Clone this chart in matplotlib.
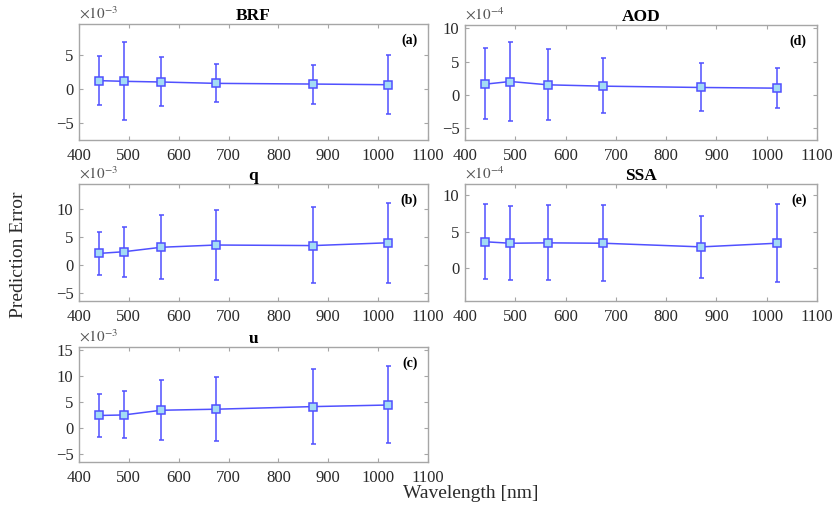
import matplotlib
matplotlib.use("Agg")
import matplotlib.pyplot as plt
import numpy as np

plt.rcParams['font.family'] = ['Liberation Serif', 'DejaVu Serif']
plt.rcParams['mathtext.fontset'] = 'stix'

# wavelengths (nm)
wavelength = [440, 490, 565, 675, 870, 1020]

# mean prediction error and upper / lower ends of the error bars (scaled units)
brf_mean = [1.2, 1.1, 1.0, 0.8, 0.7, 0.6]
brf_hi = [4.8, 6.8, 4.6, 3.6, 3.5, 5.0]
brf_lo = [-2.4, -4.5, -2.5, -2.0, -2.2, -3.7]

q_mean = [2.1, 2.4, 3.2, 3.6, 3.5, 4.0]
q_hi = [6.0, 6.9, 8.9, 9.9, 10.4, 11.1]
q_lo = [-1.7, -2.1, -2.5, -2.6, -3.2, -3.1]

u_mean = [2.4, 2.5, 3.4, 3.6, 4.1, 4.4]
u_hi = [6.5, 7.1, 9.1, 9.7, 11.2, 11.9]
u_lo = [-1.7, -2.0, -2.3, -2.5, -3.0, -2.9]

aod_mean = [1.6, 2.0, 1.5, 1.3, 1.1, 1.0]
aod_hi = [7.0, 7.9, 6.9, 5.5, 4.8, 4.0]
aod_lo = [-3.7, -3.9, -3.8, -2.8, -2.4, -2.0]

ssa_mean = [3.6, 3.4, 3.45, 3.4, 2.9, 3.4]
ssa_hi = [8.7, 8.45, 8.6, 8.6, 7.1, 8.8]
ssa_lo = [-1.5, -1.6, -1.6, -1.7, -1.3, -1.9]

W, H = 834, 508
fig = plt.figure(figsize=(W / 100, H / 100), dpi=100)

LINE = '#5050ff'
FACE = '#a3dcf5'
BOX = '#a6a6a6'


def panel(px, title, tag, mean, hi, lo, exp, ylim, yticks):
    l, t, r, b = px
    ax = fig.add_axes([l / W, 1 - b / H, (r - l) / W, (b - t) / H])
    mean = np.array(mean)
    yerr = [mean - np.array(lo), np.array(hi) - mean]
    ax.errorbar(wavelength, mean, yerr=yerr, color=LINE, lw=1.1, elinewidth=1.1,
                capsize=1.8, capthick=1.1, marker='s', ms=5.6, mfc=FACE,
                mec=LINE, mew=1.1)
    ax.set_xlim(400, 1100)
    ax.set_xticks(range(400, 1101, 100))
    ax.set_ylim(*ylim)
    ax.set_yticks(yticks)
    ax.tick_params(direction='in', top=True, right=True, length=3, width=0.8,
                   color=BOX, labelsize=12, labelcolor='#2a2a2a')
    ax.tick_params(axis='x', pad=6)
    ax.tick_params(axis='y', pad=4)
    for s in ax.spines.values():
        s.set_color(BOX)
        s.set_linewidth(1.0)
    ax.set_title(title, fontsize=12.5, fontweight='bold', pad=3)
    ax.text(0.97, 0.92, tag, transform=ax.transAxes, ha='right', va='top',
            fontsize=10, fontweight='bold')
    ax.text(0.0, 1.02, r'$\times10^{%d}$' % exp, transform=ax.transAxes,
            ha='left', va='bottom', fontsize=11, color='#555555')
    return ax


panel((79, 24, 428, 140), 'BRF', '(a)', brf_mean, brf_hi, brf_lo, -3,
      (-7.5, 9.5), [-5, 0, 5])
panel((79, 184, 428, 301), 'q', '(b)', q_mean, q_hi, q_lo, -3,
      (-6.4, 14.5), [-5, 0, 5, 10])
panel((79, 347, 428, 462), 'u', '(c)', u_mean, u_hi, u_lo, -3,
      (-6.5, 15.5), [-5, 0, 5, 10, 15])
panel((465, 25, 817, 140), 'AOD', '(d)', aod_mean, aod_hi, aod_lo, -4,
      (-6.8, 10.5), [-5, 0, 5, 10])
panel((465, 184, 817, 301), 'SSA', '(e)', ssa_mean, ssa_hi, ssa_lo, -4,
      (-4.5, 11.5), [0, 5, 10])

fig.text(19 / W, 1 - 255 / H, 'Prediction Error', rotation=90, ha='center',
         va='center', fontsize=14, color='#2a2a2a')
fig.text(471 / W, 1 - 494 / H, 'Wavelength [nm]', ha='center', va='center',
         fontsize=14, color='#2a2a2a')

fig.savefig('out.png', dpi=100)
